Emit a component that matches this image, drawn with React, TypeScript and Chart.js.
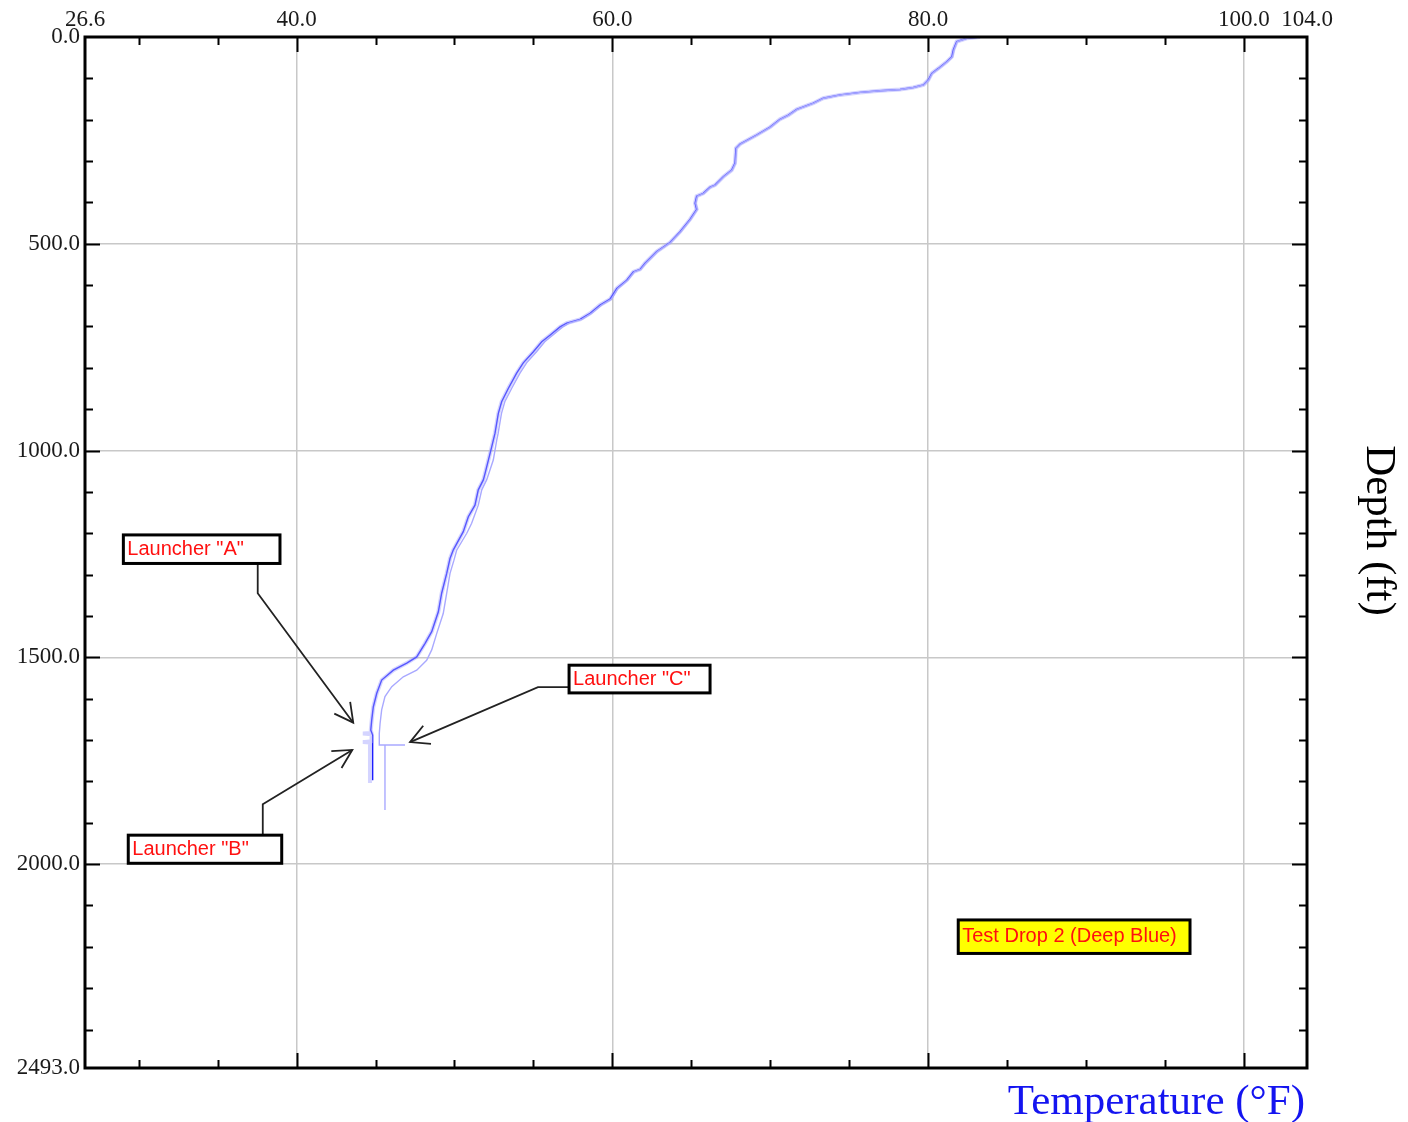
import React, { useEffect, useRef } from "react";
import { Chart, registerables } from "chart.js";

Chart.register(...registerables);

// ---------- Data ----------
// Launcher "A" (dark blue)
const depthA = [0, 3, 11, 31, 48, 60, 76, 88, 104, 116, 122, 127, 130, 134, 140, 148, 160, 175, 189, 199, 218, 237, 259, 269, 305, 322, 338, 358, 363, 378, 385, 402, 417, 441, 471, 497, 519, 547, 562, 568, 588, 608, 634, 648, 668, 683, 692, 701, 721, 737, 761, 788, 813, 850, 882, 910, 958, 991, 1023, 1055, 1071, 1095, 1132, 1160, 1196, 1240, 1261, 1297, 1345, 1390, 1438, 1466, 1499, 1514, 1531, 1555, 1587, 1620, 1652, 1676, 1688, 1797];
const tempA = [83.29, 82.45, 81.81, 81.6, 81.5, 81.18, 80.65, 80.23, 80.01, 79.7, 79.06, 78.22, 76.95, 75.69, 74.42, 73.36, 72.73, 71.68, 71.15, 70.62, 69.99, 69.14, 68.09, 67.83, 67.77, 67.56, 67.03, 66.5, 66.19, 65.76, 65.34, 65.24, 65.34, 64.92, 64.29, 63.65, 62.81, 62.07, 61.75, 61.33, 60.91, 60.28, 59.85, 59.22, 58.59, 57.95, 57.11, 56.69, 56.05, 55.53, 55.0, 54.36, 53.94, 53.41, 52.99, 52.78, 52.57, 52.36, 52.15, 51.94, 51.83, 51.51, 51.3, 50.88, 50.56, 49.93, 49.72, 49.51, 49.19, 48.98, 48.56, 48.14, 47.61, 46.98, 46.13, 45.39, 45.08, 44.86, 44.76, 44.7, 44.82, 44.82];

// Launcher "B" (light blue, nearly coincident with A)
const depthB = [0, 3, 11, 31, 48, 60, 76, 88, 104, 116, 122, 127, 130, 134, 140, 148, 160, 175, 189, 199, 218, 237, 259, 269, 305, 322, 338, 358, 363, 378, 385, 402, 417, 441, 471, 497, 519, 547, 562, 568, 588, 608, 634, 648, 668, 683, 692, 701, 721, 737, 761, 788, 813, 850, 882, 910, 958, 991, 1023, 1055, 1071, 1095, 1132, 1160, 1196, 1240, 1261, 1297, 1345, 1390, 1438, 1466, 1499, 1514, 1531, 1555, 1587, 1620, 1652, 1676, 1683, 1684, 1686, 1703, 1705, 1706, 1804];
const tempB = [83.29, 82.45, 81.81, 81.6, 81.5, 81.18, 80.65, 80.23, 80.01, 79.7, 79.06, 78.22, 76.95, 75.69, 74.42, 73.36, 72.73, 71.68, 71.15, 70.62, 69.99, 69.14, 68.09, 67.83, 67.77, 67.56, 67.03, 66.5, 66.19, 65.76, 65.34, 65.24, 65.34, 64.92, 64.29, 63.65, 62.81, 62.07, 61.75, 61.33, 60.91, 60.28, 59.85, 59.22, 58.59, 57.95, 57.11, 56.69, 56.05, 55.53, 55.0, 54.36, 53.94, 53.41, 52.99, 52.78, 52.57, 52.36, 52.15, 51.94, 51.83, 51.51, 51.3, 50.88, 50.56, 49.93, 49.72, 49.51, 49.19, 48.98, 48.56, 48.14, 47.61, 46.98, 46.13, 45.39, 45.08, 44.86, 44.76, 44.7, 44.75, 44.2, 44.75, 44.75, 44.2, 44.65, 44.65];

// Launcher "C" (lighter blue, slightly warmer)
const depthC = [0, 3, 11, 31, 48, 60, 76, 88, 104, 116, 122, 127, 130, 134, 140, 148, 160, 175, 189, 199, 218, 237, 259, 269, 305, 322, 338, 358, 363, 378, 385, 402, 417, 441, 471, 497, 519, 547, 562, 568, 588, 608, 634, 648, 668, 683, 692, 701, 721, 737, 761, 788, 813, 850, 882, 910, 958, 975, 1023, 1071, 1095, 1132, 1176, 1200, 1241, 1265, 1297, 1345, 1394, 1442, 1482, 1507, 1531, 1547, 1571, 1595, 1627, 1660, 1684, 1712, 1712, 1712, 1869];
const tempC = [83.3, 82.48, 81.85, 81.65, 81.55, 81.22, 80.7, 80.27, 80.05, 79.74, 79.1, 78.26, 77.0, 75.74, 74.47, 73.4, 72.77, 71.72, 71.19, 70.66, 70.03, 69.18, 68.13, 67.87, 67.81, 67.6, 67.07, 66.55, 66.24, 65.81, 65.39, 65.29, 65.39, 64.97, 64.34, 63.7, 62.86, 62.13, 61.81, 61.4, 60.98, 60.36, 59.95, 59.33, 58.7, 58.08, 57.27, 56.86, 56.22, 55.72, 55.2, 54.57, 54.15, 53.62, 53.19, 52.98, 52.77, 52.68, 52.46, 52.04, 51.73, 51.51, 51.09, 50.78, 50.14, 49.97, 49.72, 49.51, 49.29, 48.88, 48.56, 48.24, 47.61, 46.76, 46.03, 45.6, 45.39, 45.29, 45.24, 45.24, 46.87, 45.6, 45.6];

// Axes
const X_MIN = 26.6;
const X_MAX = 104.0;
const Y_MIN = 0;
const Y_MAX = 2493.0;
const xTickValues = [26.6, 30, 35, 40, 45, 50, 55, 60, 65, 70, 75, 80, 85, 90, 95, 100, 104];
const xLabelValues = [26.6, 40, 60, 80, 100, 104];
const xGridValues = [40, 60, 80, 100];
const yTickValues = [0, 100, 200, 300, 400, 500, 600, 700, 800, 900, 1000, 1100, 1200, 1300, 1400, 1500, 1600, 1700, 1800, 1900, 2000, 2100, 2200, 2300, 2400, 2493];
const yLabelValues = [0, 500, 1000, 1500, 2000, 2493];
const yGridValues = [500, 1000, 1500, 2000];

const xTitle = "Temperature (°F)";
const yTitle = "Depth (ft)";

// Annotations in data units: box [tLeft, dTop, tRight, dBottom], arrow polyline points [t, d]
const annotations = [
  { text: 'Launcher "A"', box: [29.03, 1204, 38.95, 1273], fill: "#ffffff", arrow: [[37.54, 1273], [37.54, 1345], [43.59, 1658]] },
  { text: 'Launcher "B"', box: [29.34, 1930, 39.06, 1998], fill: "#ffffff", arrow: [[37.86, 1930], [37.86, 1855], [43.53, 1724]] },
  { text: 'Launcher "C"', box: [57.26, 1519, 66.19, 1586], fill: "#ffffff", arrow: [[57.26, 1572], [55.29, 1572], [47.19, 1705]] },
  { text: "Test Drop 2 (Deep Blue)", box: [81.91, 2135, 96.59, 2216], fill: "#ffff00", arrow: null as null | number[][] },
];

const pts = (t: number[], d: number[]) => t.map((x, i) => ({ x, y: d[i] }));
const near = (arr: number[], v: number) => arr.some((a) => Math.abs(a - v) < 1e-6);

const decorPlugin = {
  id: "decor",
  afterDraw(chart: any) {
    const ctx = chart.ctx as CanvasRenderingContext2D;
    const { left, top, right, bottom } = chart.chartArea;
    const xs = chart.scales.x;
    const ys = chart.scales.y;
    ctx.save();
    // tick marks (inward)
    ctx.strokeStyle = "#000";
    ctx.lineWidth = 2;
    ctx.beginPath();
    xTickValues.forEach((v) => {
      if (v === X_MIN || v === X_MAX) return;
      const px = Math.round(xs.getPixelForValue(v)) + 0.5;
      const len = near(xGridValues, v) ? 15 : 8;
      ctx.moveTo(px, top);
      ctx.lineTo(px, top + len);
      ctx.moveTo(px, bottom);
      ctx.lineTo(px, bottom - len);
    });
    yTickValues.forEach((v) => {
      if (v === Y_MIN || v === Y_MAX) return;
      const py = Math.round(ys.getPixelForValue(v)) + 0.5;
      const len = near(yGridValues, v) ? 15 : 8;
      ctx.moveTo(left, py);
      ctx.lineTo(left + len, py);
      ctx.moveTo(right, py);
      ctx.lineTo(right - len, py);
    });
    ctx.stroke();
    // frame
    ctx.lineWidth = 3;
    ctx.strokeRect(left, top, right - left, bottom - top);

    // annotations
    annotations.forEach((a) => {
      const x1 = xs.getPixelForValue(a.box[0]);
      const y1 = ys.getPixelForValue(a.box[1]);
      const x2 = xs.getPixelForValue(a.box[2]);
      const y2 = ys.getPixelForValue(a.box[3]);
      if (a.arrow) {
        const p = a.arrow.map(([t, d]) => [xs.getPixelForValue(t), ys.getPixelForValue(d)]);
        ctx.strokeStyle = "#222";
        ctx.lineWidth = 1.8;
        ctx.beginPath();
        ctx.moveTo(p[0][0], p[0][1]);
        for (let i = 1; i < p.length; i++) ctx.lineTo(p[i][0], p[i][1]);
        ctx.stroke();
        const [tx, ty] = p[p.length - 1];
        const [bx, by] = p[p.length - 2];
        const ang = Math.atan2(ty - by, tx - bx);
        const wl = 21;
        const wa = (28 * Math.PI) / 180;
        ctx.beginPath();
        ctx.moveTo(tx - wl * Math.cos(ang - wa), ty - wl * Math.sin(ang - wa));
        ctx.lineTo(tx, ty);
        ctx.lineTo(tx - wl * Math.cos(ang + wa), ty - wl * Math.sin(ang + wa));
        ctx.stroke();
      }
      ctx.fillStyle = a.fill;
      ctx.fillRect(x1, y1, x2 - x1, y2 - y1);
      ctx.strokeStyle = "#000";
      ctx.lineWidth = 3;
      ctx.strokeRect(x1, y1, x2 - x1, y2 - y1);
      ctx.fillStyle = "#ff1010";
      ctx.font = '20px "Liberation Sans", Arial, sans-serif';
      ctx.textAlign = "left";
      ctx.textBaseline = "middle";
      ctx.fillText(a.text, x1 + 4, (y1 + y2) / 2);
    });

    // axis titles
    ctx.fillStyle = "#1414f0";
    ctx.font = '43px "Liberation Serif", "Times New Roman", serif';
    ctx.textAlign = "right";
    ctx.textBaseline = "alphabetic";
    ctx.fillText(xTitle, right - 2, bottom + 46);

    ctx.fillStyle = "#000";
    ctx.font = '43px "Liberation Serif", "Times New Roman", serif';
    ctx.translate(right + 60, (top + bottom) / 2 - 22);
    ctx.rotate(Math.PI / 2);
    ctx.textAlign = "center";
    ctx.fillText(yTitle, 0, 0);
    ctx.restore();
  },
};

export default function App() {
  const ref = useRef<HTMLCanvasElement | null>(null);
  useEffect(() => {
    if (!ref.current) return;
    const tickFont = { family: '"Liberation Serif", "Times New Roman", serif', size: 23 };
    const chart = new Chart(ref.current, {
      type: "scatter",
      data: {
        datasets: [
          {
            label: 'Launcher "C"',
            data: pts(tempC, depthC),
            showLine: true,
            borderColor: "#a9a9ff",
            borderWidth: 1.4,
            pointRadius: 0,
            tension: 0,
          },
          {
            label: 'Launcher "B"',
            data: pts(tempB, depthB),
            showLine: true,
            borderColor: "rgba(160,160,255,0.45)",
            borderWidth: 4,
            pointRadius: 0,
            tension: 0,
          },
          {
            label: 'Launcher "A"',
            data: pts(tempA, depthA),
            showLine: true,
            borderColor: "#1c1cff",
            borderWidth: 1.4,
            pointRadius: 0,
            tension: 0,
          },
        ],
      },
      options: {
        animation: false,
        responsive: false,
        maintainAspectRatio: false,
        layout: { padding: { top: 0, left: 0, right: 101, bottom: 54 } },
        plugins: { legend: { display: false }, tooltip: { enabled: false } },
        scales: {
          x: {
            type: "linear",
            position: "top",
            min: X_MIN,
            max: X_MAX,
            afterBuildTicks: (s: any) => {
              s.ticks = xTickValues.map((v) => ({ value: v }));
            },
            afterFit: (s: any) => {
              s.height = 37;
            },
            ticks: {
              autoSkip: false,
              maxRotation: 0,
              padding: 3,
              color: "#1a1a1a",
              font: tickFont,
              callback: (v: any) => (near(xLabelValues, Number(v)) ? Number(v).toFixed(1) : ""),
            },
            grid: {
              drawTicks: false,
              lineWidth: 1.5,
              color: (c: any) => (c.tick && near(xGridValues, c.tick.value) ? "#c8c8c8" : "rgba(0,0,0,0)"),
            },
            border: { display: false },
          },
          y: {
            type: "linear",
            reverse: true,
            min: Y_MIN,
            max: Y_MAX,
            afterBuildTicks: (s: any) => {
              s.ticks = yTickValues.map((v) => ({ value: v }));
            },
            afterFit: (s: any) => {
              s.width = 85;
            },
            ticks: {
              autoSkip: false,
              padding: 5,
              color: "#1a1a1a",
              font: tickFont,
              callback: (v: any) => (near(yLabelValues, Number(v)) ? Number(v).toFixed(1) : ""),
            },
            grid: {
              drawTicks: false,
              lineWidth: 1.5,
              color: (c: any) => (c.tick && near(yGridValues, c.tick.value) ? "#c8c8c8" : "rgba(0,0,0,0)"),
            },
            border: { display: false },
          },
        },
      },
      plugins: [decorPlugin],
    } as any);
    return () => chart.destroy();
  }, []);
  return (
    <div style={{ position: "absolute", left: 0, top: 0, width: 1408, height: 1122, background: "#fff" }}>
      <canvas ref={ref} width={1408} height={1122} style={{ display: "block" }} />
    </div>
  );
}
